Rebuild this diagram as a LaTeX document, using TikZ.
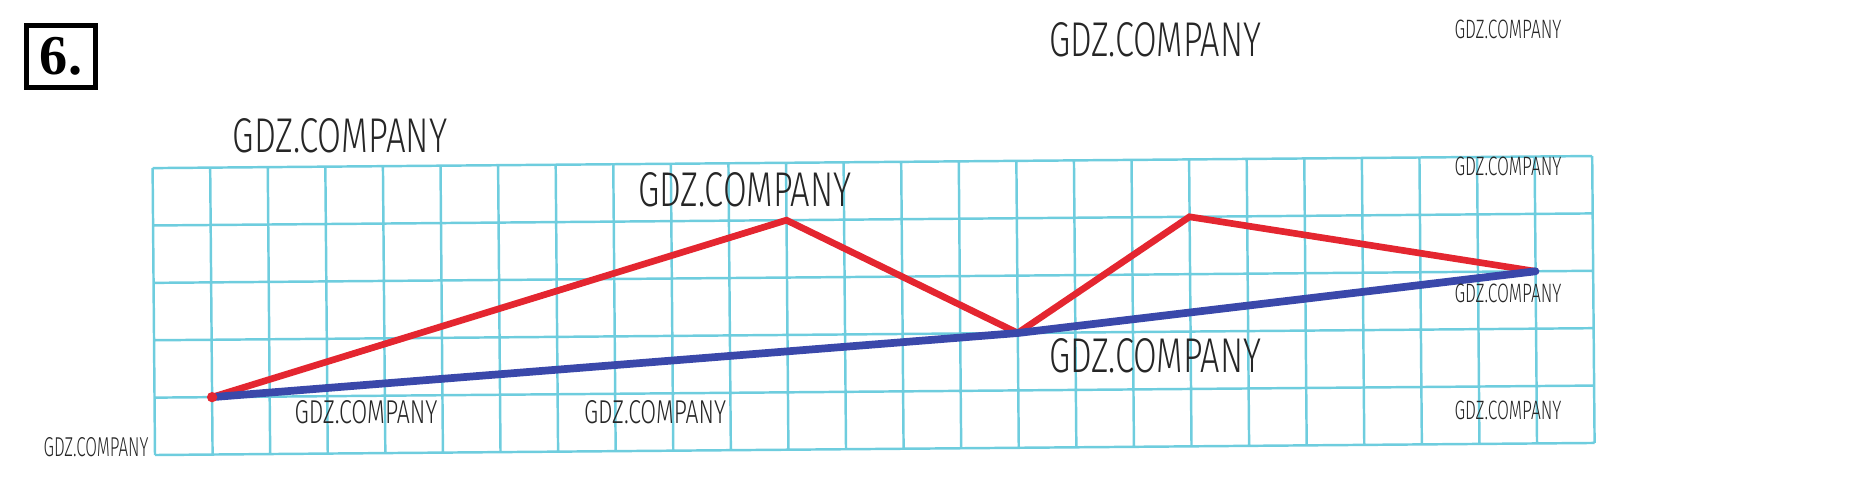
\documentclass[tikz,border=0pt]{standalone}
\usepackage{fontspec}
\usepackage{graphicx}
\setmainfont{Liberation Serif}
\newfontfamily\wmfont{Fira Sans Light}
\definecolor{gridcyan}{RGB}{110,205,222}
\definecolor{brokenred}{RGB}{228,38,48}
\definecolor{chordblue}{RGB}{58,72,170}
\newcommand{\wmark}[2]{\resizebox{#1}{#2}{\wmfont GDZ.COMPANY}}

\begin{document}
\begin{tikzpicture}[
  x=0.02cm,y=-0.02cm,
  every node/.style={inner sep=0pt},
  numbox/.style={draw,line width=2.8pt,minimum width=1.38cm,minimum height=1.24cm,
    font=\fontsize{32}{32}\selectfont\bfseries},
  gridline/.style={draw=gridcyan,line width=1.4pt},
  redline/.style={draw=brokenred,line width=3.8pt},
  blueline/.style={draw=chordblue,line width=4.4pt,line cap=round,line join=round},
  watermark/.style={text=black!85}
]
  \useasboundingbox (0,0) rectangle (1851,478);
  \node[numbox] (num) at (61,56.5) {6.};

  \begin{scope}[shift={(155,455)},rotate=0.48,x=1.152cm,y=1.148cm]
    \draw[gridline,step=1] (0,0) grid (25,5);
    \coordinate (A) at (1,1);
    \coordinate (B) at (11,4);
    \coordinate (C) at (15,2);
    \coordinate (D) at (18,4);
    \coordinate (E) at (24,3);
    \draw[redline] (A) -- (B) -- (C) -- (D) -- (E);
    \draw[blueline] (A) -- (C) -- (E);
    \fill[brokenred] (A) circle (0.09);
  \end{scope}

  \node[watermark] (wm1) at (1155,40) {\wmark{4.24cm}{0.68cm}};
  \node[watermark] (wm2) at (1508,29) {\wmark{2.14cm}{0.37cm}};
  \node[watermark] (wm3) at (340,136) {\wmark{4.3cm}{0.68cm}};
  \node[watermark] (wm4) at (745,190) {\wmark{4.26cm}{0.68cm}};
  \node[watermark] (wm5) at (1508,166) {\wmark{2.14cm}{0.37cm}};
  \node[watermark] (wm6) at (1508,293) {\wmark{2.14cm}{0.37cm}};
  \node[watermark] (wm7) at (1155,356) {\wmark{4.24cm}{0.68cm}};
  \node[watermark] (wm8) at (366,412) {\wmark{2.86cm}{0.46cm}};
  \node[watermark] (wm9) at (655,412) {\wmark{2.84cm}{0.46cm}};
  \node[watermark] (wm10) at (1508,410) {\wmark{2.14cm}{0.37cm}};
  \node[watermark] (wm11) at (96,447) {\wmark{2.1cm}{0.38cm}};
\end{tikzpicture}
\end{document}
